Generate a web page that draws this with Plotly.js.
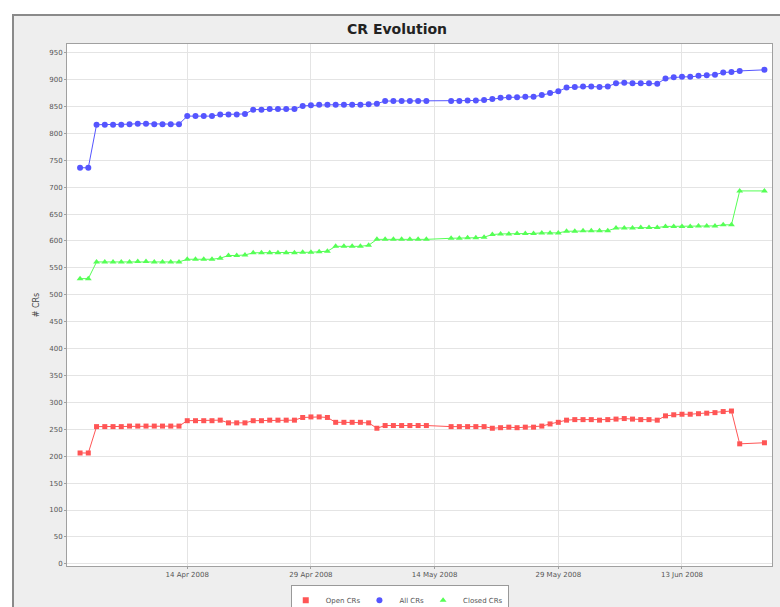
<!DOCTYPE html>
<html>
<head>
<meta charset="utf-8">
<script src="https://cdn.plot.ly/plotly-3.0.1.min.js"></script>
<style>
html,body{margin:0;padding:0;background:#ffffff;width:780px;height:607px;overflow:hidden;}
#chart{position:absolute;left:12px;top:14px;width:766px;height:591px;border-left:2px solid #8a8a8a;border-top:2px solid #8a8a8a;}
</style>
</head>
<body>
<div id="chart"></div>
<script>
const dates = [
 '2008-04-01','2008-04-02','2008-04-03','2008-04-04','2008-04-05','2008-04-06','2008-04-07','2008-04-08','2008-04-09','2008-04-10',
 '2008-04-11','2008-04-12','2008-04-13','2008-04-14','2008-04-15','2008-04-16','2008-04-17','2008-04-18','2008-04-19','2008-04-20',
 '2008-04-21','2008-04-22','2008-04-23','2008-04-24','2008-04-25','2008-04-26','2008-04-27','2008-04-28','2008-04-29','2008-04-30',
 '2008-05-01','2008-05-02','2008-05-03','2008-05-04','2008-05-05','2008-05-06','2008-05-07','2008-05-08','2008-05-09','2008-05-10',
 '2008-05-11','2008-05-12','2008-05-13',
 '2008-05-16','2008-05-17','2008-05-18','2008-05-19','2008-05-20','2008-05-21','2008-05-22','2008-05-23','2008-05-24','2008-05-25',
 '2008-05-26','2008-05-27','2008-05-28','2008-05-29','2008-05-30','2008-05-31','2008-06-01','2008-06-02','2008-06-03','2008-06-04',
 '2008-06-05','2008-06-06','2008-06-07','2008-06-08','2008-06-09','2008-06-10','2008-06-11','2008-06-12','2008-06-13','2008-06-14',
 '2008-06-15','2008-06-16','2008-06-17','2008-06-18','2008-06-19','2008-06-20',
 '2008-06-23'
];

const openCRs = [
 206,206,
 255,255,255,255,256,256,256,256,256,256,256,
 266,266,266,266,267,262,262,262,
 266,266,267,267,267,267,
 272,273,273,272,
 263,263,263,263,262,
 252,257,257,257,257,257,257,
 255,255,255,255,255,
 252,253,254,253,254,
 254,256,260,263,
 267,268,268,268,267,268,
 269,270,269,268,268,267,
 275,277,278,278,279,280,281,
 283,284,
 223,
 225
];

const allCRs = [
 736,736,
 816,816,816,816,817,818,818,817,817,817,817,
 832,832,832,832,835,835,835,836,
 844,844,845,845,845,845,
 851,852,853,853,
 853,853,853,853,854,
 855,860,860,860,860,860,860,
 860,860,861,861,862,
 864,866,867,867,868,
 868,871,875,878,
 885,886,887,887,886,887,
 893,894,893,893,893,892,
 902,904,905,905,907,908,909,
 913,914,
 916,
 918
];

const closedCRs = [
 530,530,
 561,561,561,561,561,562,562,561,561,561,561,
 566,566,566,566,568,573,573,574,
 578,578,578,578,578,578,
 579,579,580,581,
 590,590,590,590,592,
 603,603,603,603,603,603,603,
 605,605,606,606,607,
 612,613,613,614,614,
 614,615,615,615,
 618,618,619,619,619,619,
 624,624,624,625,625,625,
 627,627,627,627,628,628,628,
 630,630,
 693,
 693
];

const seriesNames = ['Open CRs','All CRs','Closed CRs'];
const seriesColors = ['#ff5555','#5555ff','#55ff55'];
const seriesSymbols = ['square','circle','triangle-up'];
const tickDates = ['2008-04-14','2008-04-29','2008-05-14','2008-05-29','2008-06-13'];
const tickLabels = ['14 Apr 2008','29 Apr 2008','14 May 2008','29 May 2008','13 Jun 2008'];

const values = [openCRs, allCRs, closedCRs];
const sizes = [5, 6, 6];

const data = [];
values.forEach((y, i) => {
  data.push({
    type:'scatter', mode:'lines+markers', name:seriesNames[i], x:dates, y:y, showlegend:false,
    line:{color:seriesColors[i], width:1},
    marker:{color:seriesColors[i], symbol:seriesSymbols[i], size:sizes[i], line:{width:0}}
  });
});
// legend entries: marker only, as in the reference
values.forEach((y, i) => {
  data.push({
    type:'scatter', mode:'markers', name:seriesNames[i], x:[null], y:[null], showlegend:true,
    marker:{color:seriesColors[i], symbol:seriesSymbols[i], size:6, line:{width:0}}
  });
});

const tickFont = {family:'DejaVu Sans, sans-serif', size:7, color:'#555555'};

const layout = {
  width:766, height:591,
  paper_bgcolor:'#eeeeee', plot_bgcolor:'#ffffff',
  margin:{l:53, r:8, t:28, b:41, pad:0, autoexpand:false},
  showlegend:true,
  title:{text:'<b>CR Evolution</b>', x:0.5, xref:'container', y:0.978, yref:'container', yanchor:'middle',
         font:{family:'DejaVu Sans, sans-serif', size:14, color:'#222222'}},
  xaxis:{
    type:'date', range:['2008-03-30 10:00','2008-06-23 22:00'],
    tickvals:tickDates, ticktext:tickLabels, tickfont:tickFont,
    showgrid:true, gridcolor:'#e4e4e4', gridwidth:1,
    showline:true, linecolor:'#a0a0a0', linewidth:1, mirror:true,
    ticks:'outside', ticklen:2, tickcolor:'#a0a0a0', zeroline:false
  },
  yaxis:{
    range:[-4, 966], dtick:50, tick0:0, tickfont:tickFont,
    showgrid:true, gridcolor:'#e4e4e4', gridwidth:1,
    showline:true, linecolor:'#a0a0a0', linewidth:1, mirror:true,
    ticks:'outside', ticklen:2, tickcolor:'#a0a0a0', zeroline:false,
    title:{text:'# CRs', standoff:8, font:{family:'DejaVu Sans, sans-serif', size:8, color:'#444444'}}
  },
  legend:{
    orientation:'h', x:0.472, xanchor:'center', y:-0.036, yanchor:'top',
    bgcolor:'#ffffff', bordercolor:'#999999', borderwidth:1,
    font:{family:'DejaVu Sans, sans-serif', size:7, color:'#555555'},
    itemwidth:30, tracegroupgap:0, indentation:-6
  }
};

Plotly.newPlot('chart', data, layout, {staticPlot:true, displayModeBar:false});
</script>
</body>
</html>
